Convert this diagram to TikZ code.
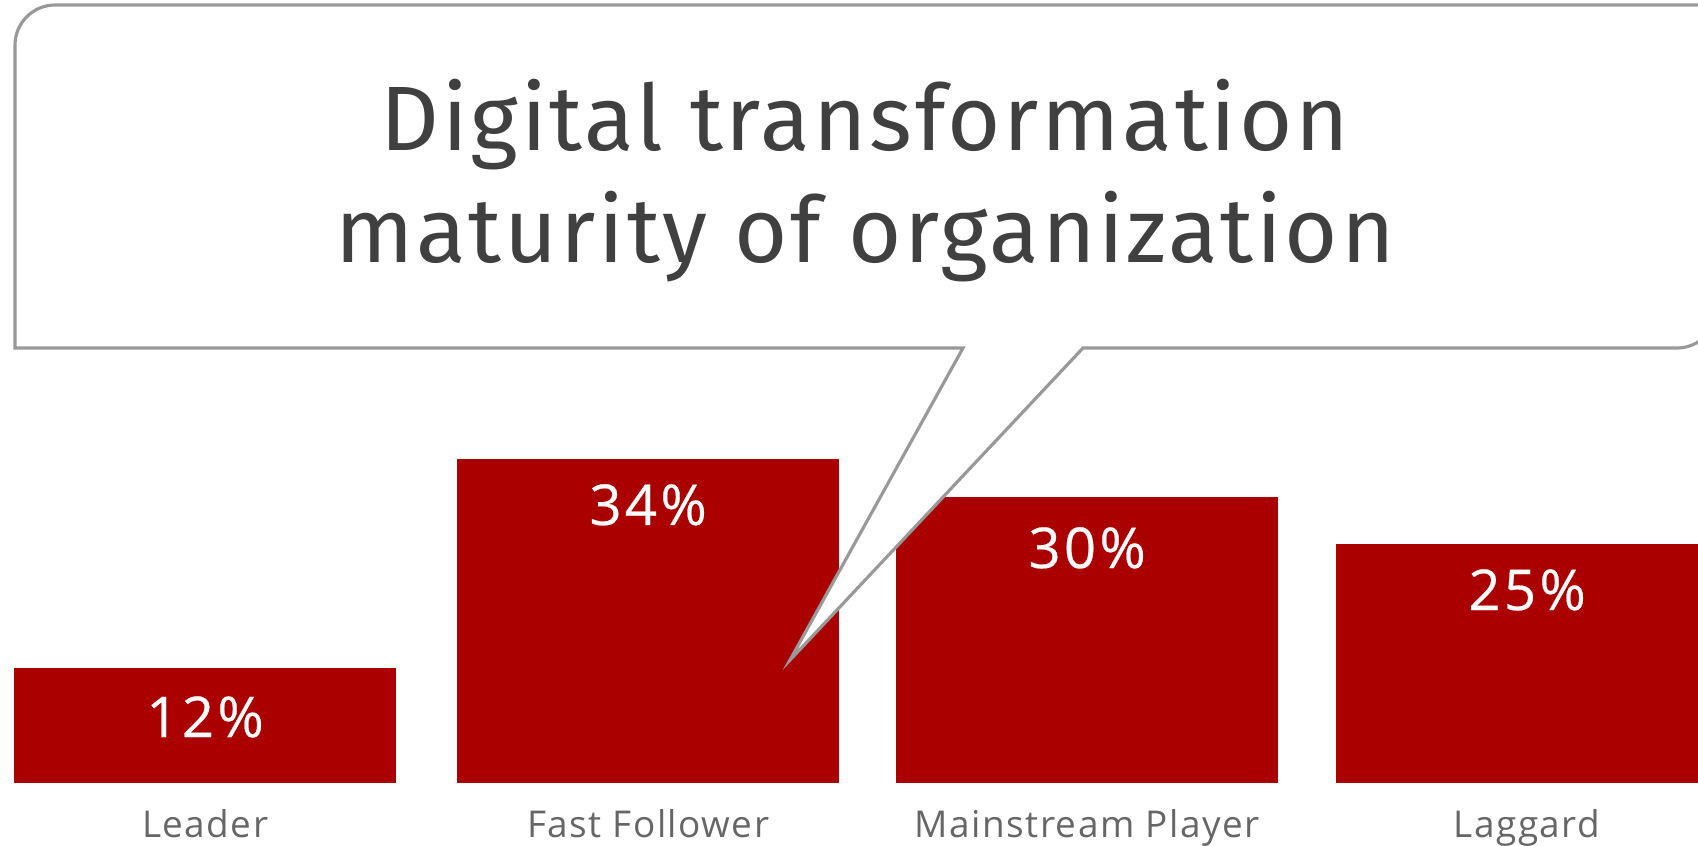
\documentclass[tikz,border=0pt]{standalone}
\usepackage{fontspec}
\setmainfont{Open Sans}
\newfontfamily\titlefont[LetterSpace=3]{Fira Sans}
\newfontfamily\pctfont[LetterSpace=6,FakeBold=0.4]{Open Sans}
\newfontfamily\catfont[LetterSpace=4]{Open Sans}
\usepackage{xcolor}
\usetikzlibrary{calc}

\definecolor{barred}{HTML}{AA0000}
\definecolor{titlegray}{HTML}{404040}
\definecolor{labelgray}{HTML}{666666}
\definecolor{edgegray}{HTML}{999999}

\begin{document}
\begin{tikzpicture}[x=0.01cm,y=-0.01cm]

\tikzset{bar/.style={fill=barred,draw=none,inner sep=0pt,outer sep=0pt,minimum width=3.82cm,anchor=south west}}
\tikzset{pct/.style={text=white,font=\pctfont\fontsize{16}{19}\selectfont}}
\tikzset{cat/.style={text=labelgray,font=\catfont\fontsize{10.5}{12}\selectfont,anchor=base}}
\tikzset{title/.style={text=titlegray,font=\titlefont\fontsize{26}{32}\selectfont,anchor=base}}
\tikzset{callout/.style={draw=edgegray,fill=white,line width=0.9pt,line join=miter}}

\useasboundingbox (0,0) rectangle (1698,845);
\clip (0,0) rectangle (1698,845);

% bars
\node[bar,minimum height=1.15cm] (leader) at (14,783) {};
\node[bar,minimum height=3.24cm] (fast) at (457,783) {};
\node[bar,minimum height=2.86cm] (main) at (896,783) {};
\node[bar,minimum height=2.39cm] (lag) at (1336,783) {};

\node[pct] (leaderpct) at ([yshift=-0.49cm]leader.north) {12\%};
\node[pct] (fastpct) at ([yshift=-0.46cm]fast.north) {34\%};
\node[pct] (mainpct) at ([yshift=-0.51cm]main.north) {30\%};
\node[pct] (lagpct) at ([yshift=-0.46cm]lag.north) {25\%};

\node[cat] (leadercat) at ([yshift=-0.54cm]leader.south) {Leader};
\node[cat] (fastcat) at ([yshift=-0.54cm]fast.south) {Fast Follower};
\node[cat] (maincat) at ([yshift=-0.54cm]main.south) {Mainstream Player};
\node[cat] (lagcat) at ([yshift=-0.54cm]lag.south) {Laggard};

% callout
\coordinate (tailL) at (963,348);
\coordinate (tailR) at (1083,348);
\coordinate (tip) at (790,660);

\draw[callout] (tip) -- (tailR) -- (1677,348)
  .. controls (1699,348) and (1717,330) .. (1717,308) -- (1717,5) -- (55,5)
  .. controls (33,5) and (15,23) .. (15,45) -- (15,348) -- (tailL) -- cycle;

\node[title] (title1) at (865,150) {Digital transformation};
\node[title] (title2) at (865,262) {maturity of organization};

\end{tikzpicture}
\end{document}
